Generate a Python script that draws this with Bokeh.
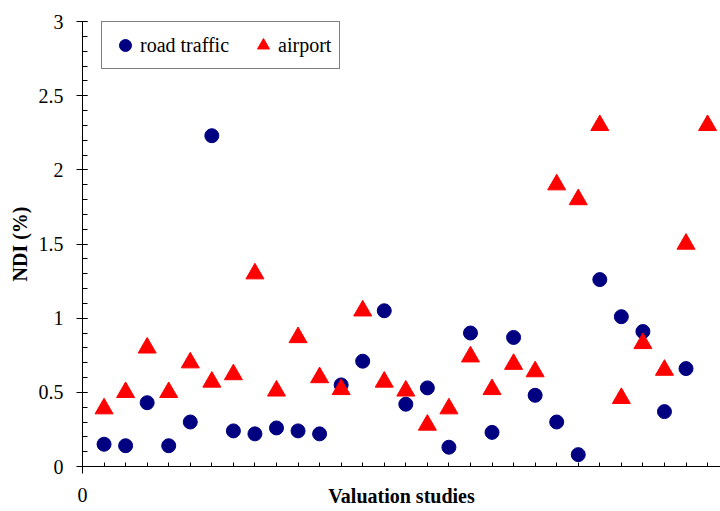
from bokeh.plotting import figure
from bokeh.models import Range1d, FixedTicker, SingleIntervalTicker, Legend, LegendItem
from bokeh.embed import file_html
from bokeh.resources import INLINE

# Valuation studies (1..29) and noise depreciation index per study
study = list(range(1, 30))
road_traffic_ndi = [0.15, 0.14, 0.43, 0.14, 0.30, 2.23, 0.24, 0.22, 0.26, 0.24,
                    0.22, 0.55, 0.71, 1.05, 0.42, 0.53, 0.13, 0.90, 0.23, 0.87,
                    0.48, 0.30, 0.08, 1.26, 1.01, 0.91, 0.37, 0.66]
airport_ndi = [0.39, 0.50, 0.80, 0.50, 0.70, 0.57, 0.62, 1.30, 0.51, 0.87,
               0.60, 0.52, 1.05, 0.57, 0.51, 0.28, 0.39, 0.74, 0.52, 0.69,
               0.64, 1.90, 1.80, 2.30, 0.46, 0.83, 0.65, 1.50, 2.30]

y_tick_values = [0, 0.5, 1, 1.5, 2, 2.5, 3]
y_tick_labels = ["0", "0.5", "1", "1.5", "2", "2.5", "3"]
x_tick_values = [0]
x_tick_labels = ["0"]

SERIF = "Liberation Serif"

p = figure(width=720, height=511, output_backend="svg", toolbar_location=None,
           x_range=Range1d(0, 29.6), y_range=Range1d(0, 3),
           min_border_left=82, min_border_right=0, min_border_top=21,
           min_border_bottom=45, outline_line_color=None,
           background_fill_color="white", border_fill_color="white")
p.grid.visible = False

road = p.scatter(study[:len(road_traffic_ndi)], road_traffic_ndi, marker="circle",
                 size=14, fill_color="#000080", line_color="#000080")
air = p.scatter(study[:len(airport_ndi)], airport_ndi, marker="triangle",
                size=18, fill_color="#FF0000", line_color="#FF0000")

xa = p.xaxis[0]
ya = p.yaxis[0]

xa.ticker = FixedTicker(ticks=x_tick_values, minor_ticks=study)
xa.major_label_overrides = dict(zip(x_tick_values, x_tick_labels))
ya.ticker = SingleIntervalTicker(interval=0.5, num_minor_ticks=5)
ya.major_label_overrides = dict(zip(y_tick_values, y_tick_labels))

xa.axis_label = "Valuation studies"
ya.axis_label = "NDI (%)"

for ax in (xa, ya):
    ax.axis_line_color = "black"
    ax.axis_line_width = 1
    ax.major_tick_line_color = "black"
    ax.minor_tick_line_color = "black"
    ax.major_label_text_font = SERIF
    ax.major_label_text_font_size = "20px"
    ax.major_label_text_color = "black"
    ax.axis_label_text_font = SERIF
    ax.axis_label_text_font_size = "20px"
    ax.axis_label_text_font_style = "bold"
    ax.axis_label_text_color = "black"

ya.major_tick_out = 6
ya.major_tick_in = 5
ya.minor_tick_out = 0
ya.minor_tick_in = 5
ya.major_label_standoff = 13
ya.axis_label_standoff = 5

# the x title is pulled up so it sits nearly level with the "0" label
xa.major_tick_out = 7
xa.major_tick_in = 0
xa.minor_tick_out = 0
xa.minor_tick_in = 4
xa.major_label_standoff = 14
xa.axis_label_standoff = -20

legend = Legend(
    items=[LegendItem(label="road traffic", renderers=[road]),
           LegendItem(label="airport", renderers=[air])],
    orientation="horizontal", location=(19, 397), margin=0, padding=8,
    spacing=19, glyph_width=30, glyph_height=30, label_standoff=-1,
    label_text_font=SERIF, label_text_font_size="20px", label_text_color="black",
    border_line_color="black", border_line_width=1,
    background_fill_color="white", background_fill_alpha=1.0,
)
p.add_layout(legend, "center")

open("out.html", "w").write(file_html(p, INLINE))
